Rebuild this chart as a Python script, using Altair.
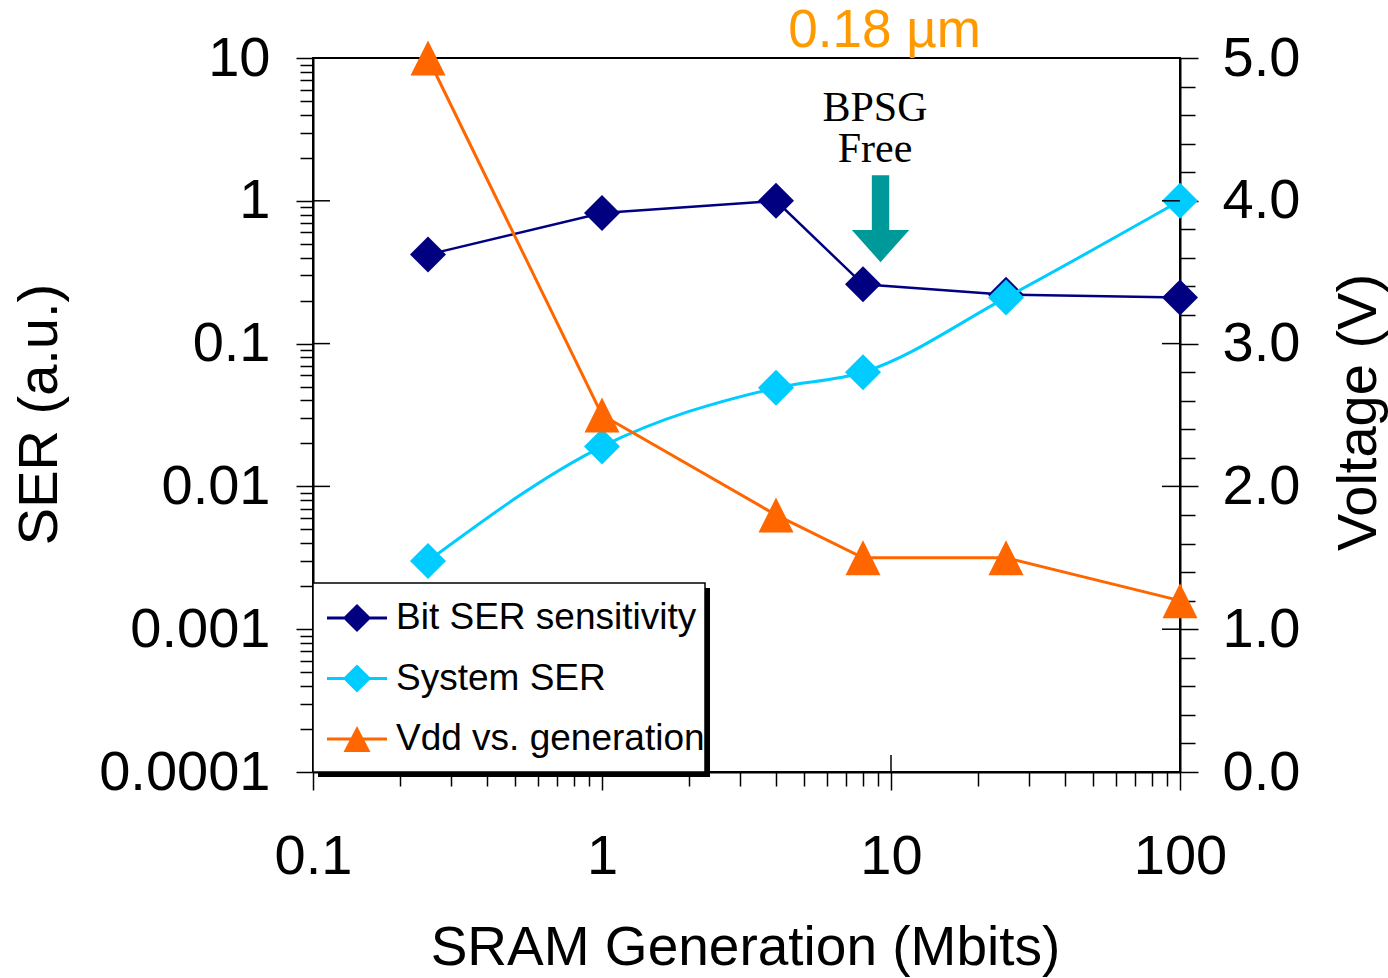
import altair as alt
import pandas as pd

# SRAM generations (Mbits) and the three measured series
generation = [0.25, 1, 4, 8, 25, 100]
bit_ser = [0.42, 0.82, 1.0, 0.26, 0.22, 0.21]
system_ser = [0.003, 0.019, 0.049, 0.063, 0.21, 1.0]
vdd = [5.0, 2.5, 1.8, 1.5, 1.5, 1.2]

series_names = ["Bit SER sensitivity", "System SER", "Vdd vs. generation"]
series_colors = ["#000080", "#00CCFF", "#FF6600"]

# axis tick positions
x_major = [0.1, 1, 10, 100]
x_ticks = [round(m * 10.0 ** e, 6) for e in range(-1, 2) for m in range(1, 10)] + [100]
ser_major = [0.0001, 0.001, 0.01, 0.1, 1, 10]
ser_ticks = [round(m * 10.0 ** e, 8) for e in range(-4, 1) for m in range(1, 10)] + [10]
volt_ticks = [round(0.2 * i, 1) for i in range(26)]

# annotation text and positions (in data units)
bpsg_lines = ["BPSG", "Free"]
bpsg_gen = [8.8, 8.8]
bpsg_ser = [3.6, 1.87]
node_label = ["0.18 µm"]
node_gen = [9.5]
node_ser = [11.9]
arrow_gen = [9.2]
arrow_ser = [0.75]

FONT = "Liberation Sans"

DIAMOND = "M0,-1L1,0L0,1L-1,0Z"
TRIANGLE = "M0,-1L1,1L-1,1Z"
ARROW = "M-0.2,-1L0.2,-1L0.2,0.26L0.66,0.26L0,1L-0.66,0.26L-0.2,0.26Z"
# legend keys: a short line with the marker on it
KEY_DIAMOND = "M-1,-0.05L1,-0.05L1,0.05L-1,0.05Z M0,-0.47L0.47,0L0,0.47L-0.47,0Z"
KEY_TRIANGLE = "M-1,-0.05L1,-0.05L1,0.05L-1,0.05Z M0,-0.43L0.45,0.43L-0.45,0.43Z"

bit_df = pd.DataFrame({"gen": generation, "ser": bit_ser})
sys_df = pd.DataFrame({"gen": generation, "ser": system_ser})
vdd_df = pd.DataFrame({"gen": generation, "volt": vdd})

x_axis = alt.Axis(
    values=x_ticks,
    labelExpr="indexof([0.1,1,10,100], datum.value) >= 0 ? format(datum.value, '~f') : ''",
    tickSize={"condition": {"test": "indexof([0.1,1,10,100], datum.value) >= 0", "value": 18}, "value": 14},
    labelPadding=39,
    labelOverlap=False,
    labelFlush=False,
    titleX=432,
    titleY=192,
    titleFontSize=55,
    titleAlign="center",
    titleBaseline="alphabetic",
)
x_enc = alt.X("gen:Q", scale=alt.Scale(type="log", domain=[0.1, 100]), axis=x_axis,
              title="SRAM Generation (Mbits)")

ser_axis = alt.Axis(
    values=ser_ticks,
    labelExpr="indexof([0.0001,0.001,0.01,0.1,1,10], datum.value) >= 0 ? format(datum.value, '~f') : ''",
    tickSize={"condition": {"test": "indexof([0.0001,0.001,0.01,0.1,1,10], datum.value) >= 0", "value": 17}, "value": 13},
    labelPadding=26,
    labelOverlap=False,
    titleX=-257,
    titleY=356,
    titleAngle=270,
    titleAlign="center",
    titleBaseline="alphabetic",
)
ser_y = alt.Y("ser:Q", scale=alt.Scale(type="log", domain=[0.0001, 10]), axis=ser_axis,
              title="SER (a.u.)")

volt_axis = alt.Axis(
    orient="right",
    values=volt_ticks,
    labelExpr="datum.value % 1 === 0 ? format(datum.value, '.1f') : ''",
    tickSize={"condition": {"test": "datum.value % 1 === 0", "value": 18}, "value": 15},
    labelPadding=24,
    labelOverlap=False,
    titleX=195,
    titleY=354,
    titleAngle=270,
    titleAlign="center",
    titleBaseline="alphabetic",
)
volt_y = alt.Y("volt:Q", scale=alt.Scale(domain=[0, 5]), axis=volt_axis, title="Voltage (V)")

# inward halves of the crossing major ticks
left_in = alt.Chart(pd.DataFrame({"ser": [0.001, 0.01, 0.1, 1]})).mark_rule(
    color="black", strokeWidth=1.5
).encode(y=ser_y, x=alt.value(0), x2=alt.value(17))
bottom_in = alt.Chart(pd.DataFrame({"gen": [10]})).mark_rule(
    color="black", strokeWidth=1.5
).encode(x=x_enc, y=alt.value(697), y2=alt.value(714))
right_in = alt.Chart(pd.DataFrame({"volt": [1, 2, 3, 4]})).mark_rule(
    color="black", strokeWidth=1.5
).encode(y=volt_y, x=alt.value(849), x2=alt.value(867))

bit_line = alt.Chart(bit_df).mark_line(strokeWidth=2.5, color=series_colors[0]).encode(x=x_enc, y=ser_y)
bit_pts = alt.Chart(bit_df).mark_point(
    shape=DIAMOND, size=1296, filled=True, opacity=1, color=series_colors[0]
).encode(x=x_enc, y=ser_y)
sys_line = alt.Chart(sys_df).mark_line(
    strokeWidth=3, interpolate="monotone", color=series_colors[1]
).encode(x=x_enc, y=ser_y)
sys_pts = alt.Chart(sys_df).mark_point(
    shape=DIAMOND, size=1296, filled=True, opacity=1, color=series_colors[1]
).encode(x=x_enc, y=ser_y)

arrow = alt.Chart(pd.DataFrame({"gen": arrow_gen, "ser": arrow_ser})).mark_point(
    shape=ARROW, size=7569, filled=True, opacity=1, color="#009999",
).encode(x=x_enc, y=ser_y)

bpsg = alt.Chart(pd.DataFrame({"gen": bpsg_gen, "ser": bpsg_ser, "txt": bpsg_lines})).mark_text(
    font="Liberation Serif", fontSize=42, color="black", align="center", baseline="alphabetic"
).encode(x=x_enc, y=ser_y, text="txt:N")

node = alt.Chart(pd.DataFrame({"gen": node_gen, "ser": node_ser, "txt": node_label})).mark_text(
    font=FONT, fontSize=53, color="#FF9900", align="center", baseline="alphabetic"
).encode(x=x_enc, y=ser_y, text="txt:N")

vdd_line = alt.Chart(vdd_df).mark_line(strokeWidth=3, color=series_colors[2]).encode(x=x_enc, y=volt_y)
vdd_pts = alt.Chart(vdd_df).mark_point(
    shape=TRIANGLE, size=1225, filled=True, opacity=1, color=series_colors[2]
).encode(x=x_enc, y=volt_y)

# legend frame with its drop shadow
box = pd.DataFrame({"k": [0]})
shadow = alt.Chart(box).mark_rect(color="black").encode(
    x=alt.value(5), x2=alt.value(397), y=alt.value(530), y2=alt.value(719)
)
frame = alt.Chart(box).mark_rect(fill="white", stroke="black", strokeWidth=1.5).encode(
    x=alt.value(0), x2=alt.value(392), y=alt.value(525), y2=alt.value(714)
)

# legend: carries only the colour and key-shape scales, draws no marks itself
legend_keys = alt.Chart(pd.DataFrame({"series": series_names})).transform_filter(
    "false"
).mark_point(filled=True, opacity=1).encode(
    color=alt.Color("series:N", scale=alt.Scale(domain=series_names, range=series_colors), title=None),
    shape=alt.Shape(
        "series:N",
        scale=alt.Scale(domain=series_names, range=[KEY_DIAMOND, KEY_DIAMOND, KEY_TRIANGLE]),
        title=None,
        legend=alt.Legend(
            orient="none",
            legendX=0,
            legendY=526,
            direction="vertical",
            padding=4,
            symbolSize=3600,
            symbolOffset=10,
            symbolStrokeWidth=0,
            symbolOpacity=1,
            labelOffset=9,
            rowPadding=12.5,
            labelFont=FONT,
            labelFontSize=37,
            labelColor="black",
            labelLimit=400,
        ),
    ),
)

ser_layer = alt.layer(left_in, bottom_in, bit_line, bit_pts, sys_line, sys_pts, arrow, bpsg, node)
vdd_layer = alt.layer(right_in, vdd_line, vdd_pts, shadow, frame, legend_keys)

chart = alt.layer(ser_layer, vdd_layer).resolve_scale(y="independent").properties(
    width=867,
    height=714,
    autosize=alt.AutoSizeParams(type="none"),
    padding={"left": 313, "top": 58, "right": 208, "bottom": 206},
    background="white",
).configure_view(
    stroke="black", strokeWidth=2
).configure_axis(
    labelFont=FONT,
    labelFontSize=56,
    labelColor="black",
    titleFont=FONT,
    titleFontSize=56,
    titleFontWeight="normal",
    titleColor="black",
    domainColor="black",
    domainWidth=2,
    tickColor="black",
    tickWidth=1.5,
    grid=False,
)

chart.save("out.html", embed_options={"renderer": "svg", "actions": False})
